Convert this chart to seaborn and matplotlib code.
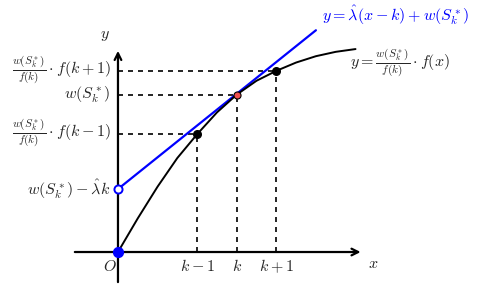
import matplotlib
matplotlib.use("Agg")
import matplotlib.pyplot as plt
import seaborn as sns
import pandas as pd

# curve y = w(S_k^*)/f(k) * f(x) (k = 3)
curve_x = [0, 0.5, 1.0, 1.5, 2.0, 2.5, 3.0, 3.5, 4.0, 4.5, 5.0, 5.5, 6.0]
curve_y = [0, 0.85, 1.65, 2.375, 2.975, 3.525, 3.975, 4.325, 4.575, 4.785, 4.945, 5.055, 5.125]

# tangent line y = lambda_hat (x - k) + w(S_k^*)
line_x = [0, 5.0]
line_y = [1.59, 5.6]

pt_x = [2, 3, 4]
pt_y = [2.975, 3.975, 4.575]
tick_labels = [r"$k-1$", r"$k$", r"$k+1$"]
left_labels = [r"$\frac{w(S_k^*)}{f(k)}\cdot f(k-1)$", r"$w(S_k^*)$", r"$\frac{w(S_k^*)}{f(k)}\cdot f(k+1)$"]

sns.set_style("white")
plt.rcParams["mathtext.fontset"] = "cm"

fig = plt.figure(figsize=(4.81, 2.85), dpi=100)
ax = fig.add_axes([0, 0, 1, 1])
ax.set_xlim(-2.98, 9.17)
ax.set_ylim(-0.833, 6.364)
ax.axis("off")

# axes with arrows
ax.annotate("", xy=(6.2, 0), xytext=(-1.16, 0),
            arrowprops=dict(arrowstyle="->", lw=1.6, color="black", mutation_scale=12))
ax.annotate("", xy=(0, 5.15), xytext=(0, -0.83),
            arrowprops=dict(arrowstyle="->", lw=1.6, color="black", mutation_scale=12))

# dashed guides
for x, y in zip(pt_x, pt_y):
    ax.plot([0, x], [y, y], ls=(0, (3, 3)), color="black", lw=1.2)
    ax.plot([x, x], [0, y], ls=(0, (3, 3)), color="black", lw=1.2)

sns.lineplot(x=line_x, y=line_y, color="#0000ff", lw=1.6, ax=ax, sort=False)
sns.lineplot(data=pd.DataFrame({"x": curve_x, "y": curve_y}), x="x", y="y",
             color="black", lw=1.4, ax=ax, sort=False)

ax.scatter([2, 4], [pt_y[0], pt_y[2]], s=30, color="black", zorder=5)
ax.scatter([3], [pt_y[1]], s=26, color="#f05050", edgecolor="black", lw=0.8, zorder=5)
ax.scatter([0], [line_y[0]], s=34, facecolor="white", edgecolor="#0000ff", lw=1.4, zorder=5)
ax.scatter([0], [0], s=50, color="#0000ff", zorder=5)

fs = 11.5
for x, lab in zip(pt_x, tick_labels):
    ax.text(x, -0.36, lab, ha="center", va="center", fontsize=fs)
ax.text(-0.2, -0.36, r"$O$", ha="center", va="center", fontsize=fs)
ax.text(6.45, -0.28, r"$x$", ha="center", va="center", fontsize=fs)
ax.text(-0.33, 5.48, r"$y$", ha="center", va="center", fontsize=fs)

for y, lab in zip(pt_y, left_labels):
    ax.text(-0.18, y, lab, ha="right", va="center", fontsize=fs)
ax.text(-0.18, line_y[0], r"$w(S_k^*)-\hat{\lambda}k$", ha="right", va="center", fontsize=fs)

ax.text(5.15, 5.98, r"$y=\hat{\lambda}(x-k)+w(S_k^*)$", ha="left", va="center",
        fontsize=fs, color="#0000ff")
ax.text(5.86, 4.75, r"$y=\frac{w(S_k^*)}{f(k)}\cdot f(x)$", ha="left", va="center", fontsize=fs)

fig.savefig("out.png", dpi=100)
